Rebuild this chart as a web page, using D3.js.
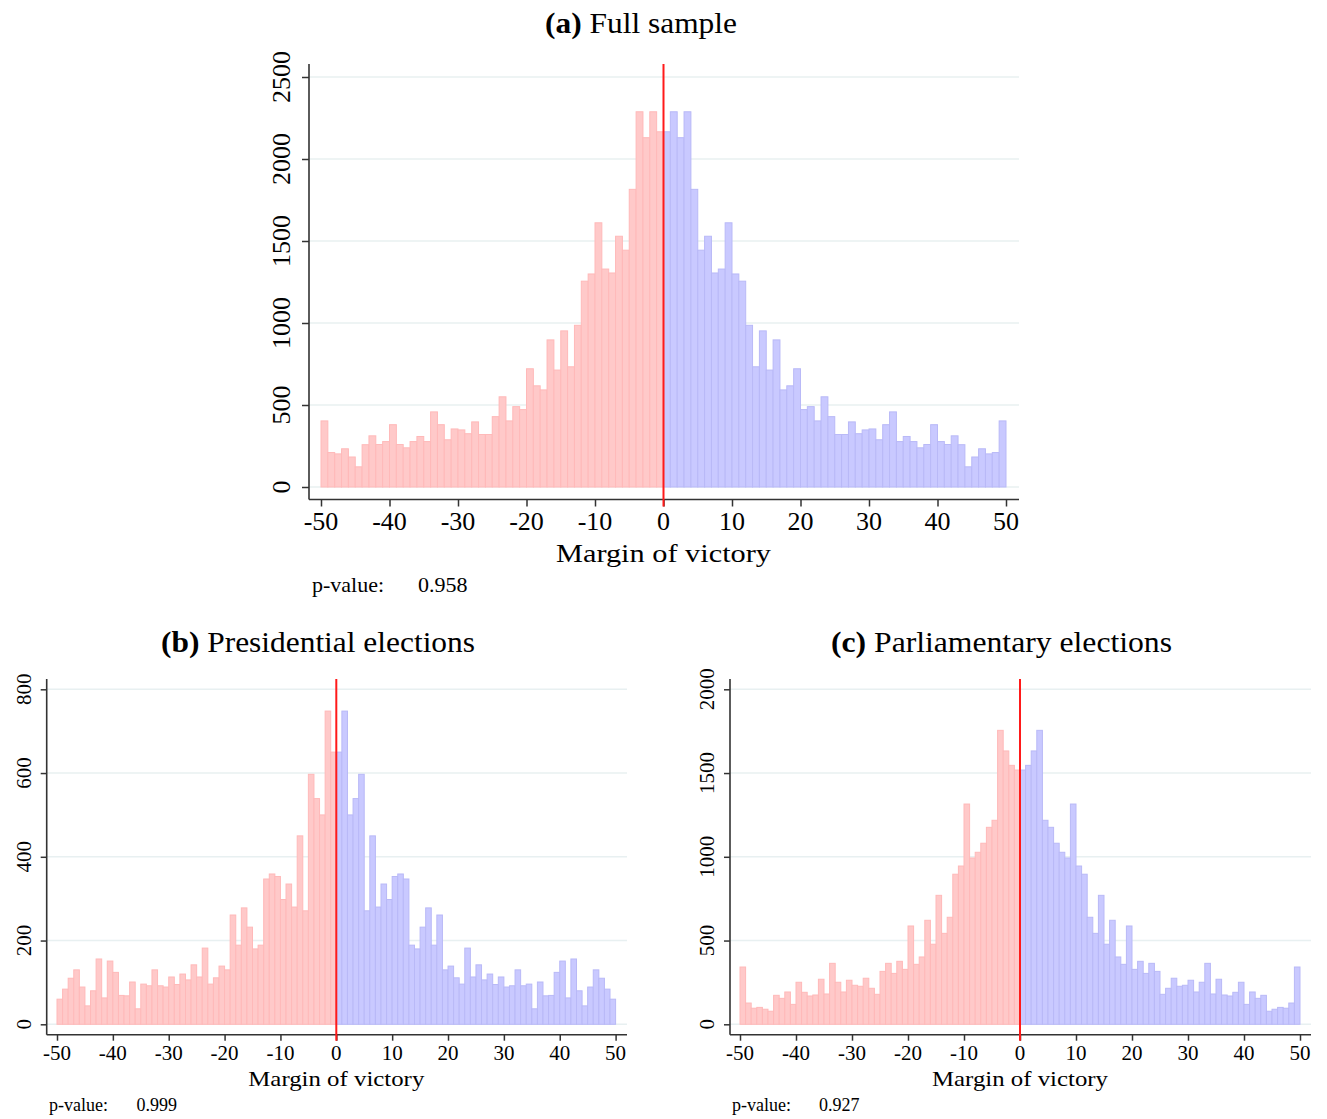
<!DOCTYPE html>
<html>
<head>
<meta charset="utf-8">
<script src="https://cdn.jsdelivr.net/npm/d3@7/dist/d3.min.js"></script>
<style>
  html, body { margin: 0; padding: 0; background: #ffffff; }
  svg { display: block; }
  text { font-family: "Liberation Serif", "Times New Roman", serif; fill: #000; }
</style>
</head>
<body>
<svg id="chart" width="1327" height="1119"></svg>
<script>
// Histogram counts in 1-point bins of the margin of victory.
// "Left" arrays hold bins -50..-1, "right" arrays hold bins 0..49.
const fullLeft = [403, 210, 202, 233, 183, 123, 258, 312, 259, 277, 380, 259, 239, 277, 308, 277, 458, 380, 288, 354,
  348, 325, 397, 320, 320, 429, 550, 403, 490, 472, 721, 617, 592, 897, 713, 952, 733, 986, 1255, 1299,
  1611, 1329, 1305, 1529, 1444, 1815, 2288, 2130, 2288, 2166];
const fullRight = [2166, 2288, 2130, 2288, 1815, 1444, 1529, 1305, 1329, 1611, 1299, 1255, 986, 733, 952, 713, 897, 592, 617, 721,
  472, 490, 403, 550, 429, 320, 320, 397, 325, 348, 354, 288, 380, 458, 277, 308, 277, 239, 259, 380,
  277, 259, 312, 258, 123, 183, 233, 202, 210, 403];

const presLeft = [60, 84, 110, 130, 89, 44, 80, 156, 63, 151, 124, 69, 68, 101, 37, 96, 92, 130, 92, 89,
  113, 95, 120, 106, 142, 113, 182, 96, 111, 139, 130, 261, 189, 278, 232, 180, 189, 347, 359, 353,
  298, 335, 280, 450, 271, 597, 539, 500, 748, 650];
const presRight = [650, 748, 500, 539, 597, 271, 450, 280, 335, 298, 353, 359, 347, 189, 180, 232, 278, 189, 261, 130,
  139, 111, 96, 182, 113, 142, 106, 120, 95, 113, 89, 92, 130, 92, 96, 37, 101, 68, 69, 124,
  151, 63, 156, 80, 44, 89, 130, 110, 84, 60];

const parlLeft = [342, 127, 96, 101, 90, 78, 173, 155, 193, 119, 251, 191, 169, 175, 269, 181, 364, 251, 193, 263,
  233, 227, 275, 215, 179, 316, 364, 304, 376, 328, 587, 358, 402, 621, 478, 770, 543, 639, 896, 945,
  1315, 993, 1027, 1081, 1176, 1218, 1755, 1632, 1546, 1518];
const parlRight = [1518, 1546, 1632, 1755, 1218, 1176, 1081, 1027, 993, 1315, 945, 896, 639, 543, 770, 478, 621, 402, 358, 587,
  328, 376, 304, 364, 316, 179, 215, 275, 227, 233, 263, 193, 251, 364, 181, 269, 175, 169, 191, 251,
  119, 193, 155, 173, 78, 90, 101, 96, 127, 342];

const xTicks = [-50, -40, -30, -20, -10, 0, 10, 20, 30, 40, 50];
const yTicksFull = [0, 500, 1000, 1500, 2000, 2500];
const yTicksPres = [0, 200, 400, 600, 800];
const yTicksParl = [0, 500, 1000, 1500, 2000];

const panelTitles = [["(a)", "Full sample"], ["(b)", "Presidential elections"], ["(c)", "Parliamentary elections"]];
const pValues = ["0.958", "0.999", "0.927"];
const xTitle = "Margin of victory";

const svg = d3.select("#chart");

const COLORS = {
  leftFill: "#ffc9c9", leftStroke: "#ffb9b9",
  rightFill: "#c9c9ff", rightStroke: "#b9b9f7",
  grid: "#e8f0f1", axis: "#333333", cutoff: "#ff1a1a"
};

function drawPanel(cfg) {
  const g = svg.append("g");
  const x = d3.scaleLinear().domain([-50, 50]).range([cfg.xLeft, cfg.xRight]);
  const y = d3.scaleLinear().domain([0, cfg.yMax]).range([cfg.yZero, cfg.yTop]);

  // horizontal gridlines
  g.append("g").selectAll("line").data(cfg.yTicks).join("line")
    .attr("x1", cfg.axisX).attr("x2", cfg.plotRight)
    .attr("y1", d => y(d)).attr("y2", d => y(d))
    .attr("stroke", COLORS.grid).attr("stroke-width", 1.6);

  const leftBins = cfg.left.map((v, i) => ({ x0: -50 + i, x1: -49 + i, v }));
  const rightBins = cfg.right.map((v, i) => ({ x0: i, x1: i + 1, v }));

  // bars below the cutoff
  g.append("g").selectAll("rect").data(leftBins).join("rect")
    .attr("x", d => x(d.x0)).attr("width", d => x(d.x1) - x(d.x0))
    .attr("y", d => y(d.v)).attr("height", d => y(0) - y(d.v))
    .attr("fill", COLORS.leftFill).attr("stroke", COLORS.leftStroke).attr("stroke-width", 1);

  // bars above the cutoff
  g.append("g").selectAll("rect").data(rightBins).join("rect")
    .attr("x", d => x(d.x0)).attr("width", d => x(d.x1) - x(d.x0))
    .attr("y", d => y(d.v)).attr("height", d => y(0) - y(d.v))
    .attr("fill", COLORS.rightFill).attr("stroke", COLORS.rightStroke).attr("stroke-width", 1);

  // y axis
  const yAxis = d3.axisLeft(y).tickValues(cfg.yTicks).tickSize(cfg.tickLen).tickFormat(d3.format("d"));
  const ya = g.append("g").attr("transform", `translate(${cfg.axisX},0)`).call(yAxis);
  ya.select(".domain").remove();
  ya.selectAll(".tick line").attr("stroke", cfg.axisColor).attr("stroke-width", 1.5);
  ya.selectAll(".tick text").remove();
  g.append("line")
    .attr("x1", cfg.axisX).attr("x2", cfg.axisX)
    .attr("y1", cfg.yAxisTop).attr("y2", cfg.xAxisY)
    .attr("stroke", cfg.axisColor).attr("stroke-width", 1.6);

  // rotated y tick labels
  g.append("g").selectAll("text").data(cfg.yTicks).join("text")
    .attr("transform", d => `translate(${cfg.yLabelBase},${y(d)}) rotate(-90)`)
    .attr("text-anchor", "middle")
    .style("font-size", cfg.tickFont + "px")
    .text(d => d);

  // x axis
  const xAxis = d3.axisBottom(x).tickValues(xTicks).tickSize(cfg.tickLen).tickFormat(d3.format("d"));
  const xa = g.append("g").attr("transform", `translate(0,${cfg.xAxisY})`).call(xAxis);
  xa.select(".domain").remove();
  xa.selectAll(".tick line").attr("stroke", cfg.axisColor).attr("stroke-width", 1.5);
  xa.selectAll(".tick text").remove();
  g.append("line")
    .attr("x1", cfg.axisX).attr("x2", cfg.plotRight)
    .attr("y1", cfg.xAxisY).attr("y2", cfg.xAxisY)
    .attr("stroke", cfg.axisColor).attr("stroke-width", 1.6);

  g.append("g").selectAll("text").data(xTicks).join("text")
    .attr("x", d => x(d)).attr("y", cfg.xLabelBase)
    .attr("text-anchor", "middle")
    .style("font-size", cfg.tickFont + "px")
    .text(d => String(d));

  // cutoff line at zero
  g.append("line")
    .attr("x1", x(0)).attr("x2", x(0))
    .attr("y1", cfg.yAxisTop).attr("y2", cfg.xAxisY + cfg.tickLen)
    .attr("stroke", COLORS.cutoff).attr("stroke-width", 2);

  // axis title
  g.append("text")
    .attr("x", x(0)).attr("y", cfg.xTitleBase)
    .attr("text-anchor", "middle")
    .attr("textLength", cfg.xTitleWidth).attr("lengthAdjust", "spacingAndGlyphs")
    .style("font-size", cfg.xTitleFont + "px")
    .text(xTitle);

  // panel title
  const t = g.append("text")
    .attr("x", cfg.titleX).attr("y", cfg.titleBase)
    .attr("text-anchor", "middle")
    .attr("textLength", cfg.titleWidth).attr("lengthAdjust", "spacingAndGlyphs")
    .style("font-size", cfg.titleFont + "px");
  t.append("tspan").style("font-weight", "bold").text(cfg.title[0]);
  t.append("tspan").text(" " + cfg.title[1]);

  // p-value note
  g.append("text")
    .attr("x", cfg.pX).attr("y", cfg.pBase)
    .style("font-size", cfg.pFont + "px")
    .text("p-value:");
  g.append("text")
    .attr("x", cfg.pValX).attr("y", cfg.pBase)
    .style("font-size", cfg.pFont + "px")
    .text(cfg.pValue);
}

drawPanel({
  left: fullLeft, right: fullRight, yTicks: yTicksFull, yMax: 2500,
  xLeft: 321, xRight: 1006, yZero: 487, yTop: 77,
  axisX: 309, plotRight: 1019, yAxisTop: 64, xAxisY: 499.5, tickLen: 7, axisColor: COLORS.axis,
  yLabelBase: 290, xLabelBase: 530, tickFont: 26,
  xTitleBase: 562, xTitleWidth: 215, xTitleFont: 26,
  title: panelTitles[0], titleX: 641, titleBase: 33, titleWidth: 192, titleFont: 29,
  pX: 312, pValX: 418, pBase: 592, pFont: 22, pValue: pValues[0]
});

drawPanel({
  left: presLeft, right: presRight, yTicks: yTicksPres, yMax: 800,
  xLeft: 57, xRight: 615.6, yZero: 1024.3, yTop: 689.3,
  axisX: 46.7, plotRight: 627, yAxisTop: 679, xAxisY: 1034.7, tickLen: 6, axisColor: COLORS.axis,
  yLabelBase: 30.5, xLabelBase: 1060, tickFont: 21,
  xTitleBase: 1086, xTitleWidth: 176, xTitleFont: 22,
  title: panelTitles[1], titleX: 318, titleBase: 652, titleWidth: 314, titleFont: 29,
  pX: 49, pValX: 136.5, pBase: 1111, pFont: 18, pValue: pValues[1]
});

drawPanel({
  left: parlLeft, right: parlRight, yTicks: yTicksParl, yMax: 2000,
  xLeft: 740, xRight: 1300, yZero: 1024.3, yTop: 689.3,
  axisX: 730, plotRight: 1311, yAxisTop: 679, xAxisY: 1034.7, tickLen: 6, axisColor: COLORS.axis,
  yLabelBase: 713.5, xLabelBase: 1060, tickFont: 21,
  xTitleBase: 1086, xTitleWidth: 176, xTitleFont: 22,
  title: panelTitles[2], titleX: 1001.5, titleBase: 652, titleWidth: 341, titleFont: 29,
  pX: 732, pValX: 819, pBase: 1111, pFont: 18, pValue: pValues[2]
});
</script>
</body>
</html>
